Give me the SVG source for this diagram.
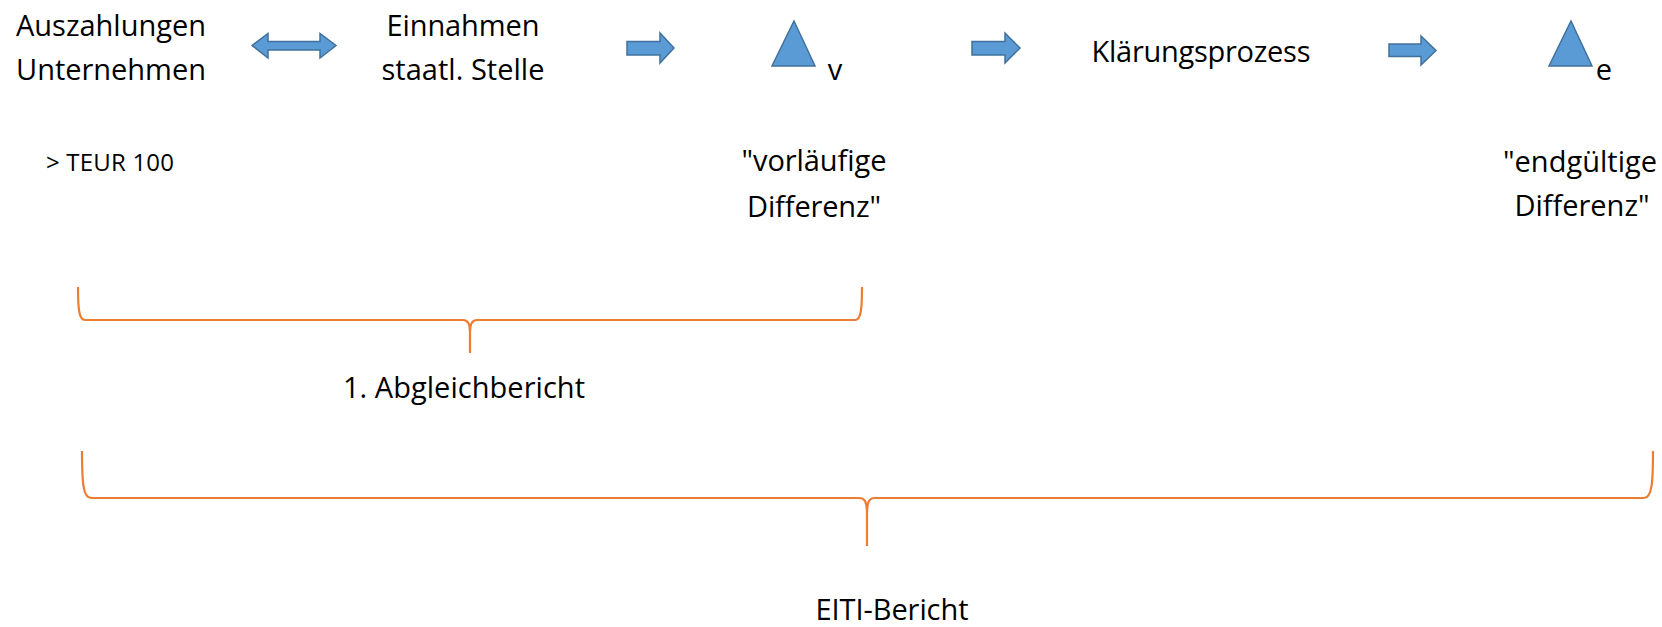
<svg xmlns="http://www.w3.org/2000/svg" width="1662" height="627" viewBox="0 0 1662 627">
<style>
.t{font-family:"Open Sans","Liberation Sans",sans-serif;font-size:29px;fill:#000;text-anchor:middle}
.s{font-family:"Open Sans","Liberation Sans",sans-serif;font-size:24px;fill:#000}
.blk{fill:#5B9BD5;stroke:#41719C;stroke-width:1.5;stroke-linejoin:miter}
.br{fill:none;stroke:#ED7D31;stroke-width:2.2}
</style>
<rect width="1662" height="627" fill="#fff"/>
<g id="auszahlungen">
<text class="t" x="111" y="36" textLength="190">Auszahlungen</text>
<text class="t" x="111" y="80" textLength="190">Unternehmen</text>
</g>
<g id="einnahmen">
<text class="t" x="463" y="36" textLength="153">Einnahmen</text>
<text class="t" x="463" y="80" textLength="163">staatl. Stelle</text>
</g>
<g id="delta-v">
<polygon class="blk" points="794,21 815,66 772,66"/>
<text class="t" x="835" y="80">v</text>
</g>
<g id="klaerungsprozess">
<text class="t" x="1201" y="62" textLength="219">Klärungsprozess</text>
</g>
<g id="delta-e">
<polygon class="blk" points="1571,21 1592,66 1549,66"/>
<text class="t" x="1604" y="80">e</text>
</g>
<g id="teur">
<text class="s" x="46" y="171" textLength="128">&gt; TEUR 100</text>
</g>
<g id="vorlaeufige-differenz">
<text class="t" x="814" y="171" textLength="145">"vorläufige</text>
<text class="t" x="814" y="217" textLength="134">Differenz"</text>
</g>
<g id="endgueltige-differenz">
<text class="t" x="1580" y="172" textLength="154">"endgültige</text>
<text class="t" x="1582" y="216" textLength="135">Differenz"</text>
</g>
<g id="abgleichbericht">
<text class="t" x="464" y="398" textLength="242">1. Abgleichbericht</text>
</g>
<g id="eiti-bericht">
<text class="t" x="892" y="620" textLength="153">EITI-Bericht</text>
</g>
<g id="connectors">
<polygon class="blk" points="252,45.5 268,33.5 268,41.5 320,41.5 320,33.5 336,45.5 320,58 320,50 268,50 268,58"/>
<polygon class="blk" points="627,41.5 660,41.5 660,33 674,48 660,63 660,55 627,55"/>
<polygon class="blk" points="972,41.5 1005,41.5 1005,33 1020,48 1005,63 1005,55 972,55"/>
<polygon class="blk" points="1389,44 1421,44 1421,36 1436,50.5 1421,65 1421,56.5 1389,56.5"/>
<path class="br" d="M78,287 C78,309 79,320 85,320 H463 C468,320 470,324 470,332 V353 M470,332 C470,324 472,320 477,320 H855 C861,320 862,309 862,287"/>
<path class="br" d="M82,451 C82,482 83,498 91,498 H859 C865,498 867,502 867,514 V546 M867,514 C867,502 869,498 875,498 H1644 C1652,498 1653,482 1653,451"/>
</g>
</svg>
